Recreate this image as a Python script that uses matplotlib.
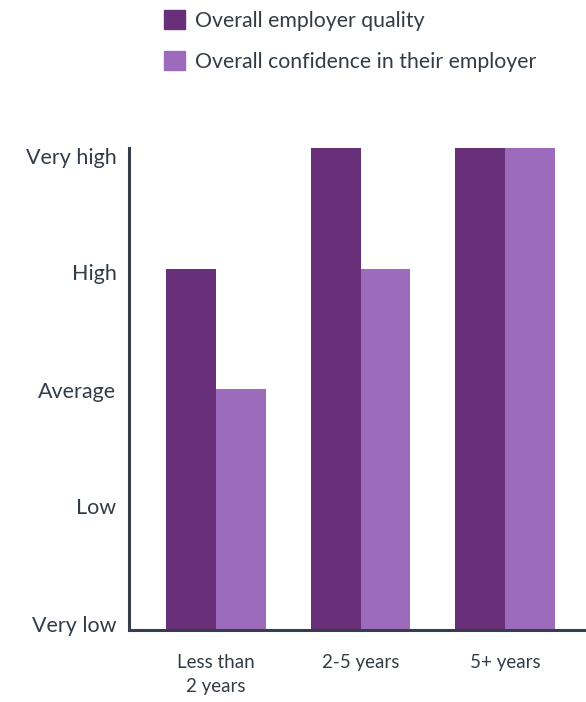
import matplotlib
matplotlib.use("Agg")
import matplotlib.pyplot as plt
import matplotlib.transforms as mtransforms
import numpy as np
from matplotlib.patches import Patch

categories = ["Less than\n2 years", "2-5 years", "5+ years"]
levels = ["Very low", "Low", "Average", "High", "Very high"]
series_names = ["Overall employer quality", "Overall confidence in their employer"]
employer_quality = [3, 4, 4]
employer_confidence = [2, 3, 4]

dark = "#69307a"
light = "#9d6bbc"
text_color = "#333c46"
spine_color = "#363f49"

plt.rcParams["font.family"] = ["Lato", "DejaVu Sans"]

fig = plt.figure(figsize=(5.86, 7.02), dpi=100)
ax = fig.add_axes([129 / 586, 72 / 702, 1 - 129 / 586, (630 - 148) / 702])

x = np.arange(len(categories))
w = 0.345
ax.bar(x - w / 2, employer_quality, width=w, color=dark, label=series_names[0], zorder=2)
ax.bar(x + w / 2, employer_confidence, width=w, color=light, label=series_names[1], zorder=2)

ax.set_xlim(-0.602, 2.56)
ax.set_ylim(0, 4)
ax.set_yticks(range(len(levels)))
ax.set_yticklabels(levels, fontsize=15.5, color=text_color)
ax.set_xticks(x)
ax.set_xticklabels(categories, fontsize=13.5, color=text_color, linespacing=1.5)
ax.tick_params(axis="both", length=0)
ax.tick_params(axis="y", pad=9)
ax.tick_params(axis="x", pad=17)

# nudge the level labels slightly below their grid positions
shifts = [-0.04, -0.02, 0.03, 0.06, 0.10]
for lab, s in zip(ax.get_yticklabels(), shifts):
    lab.set_va("center")
    lab.set_transform(lab.get_transform() + mtransforms.ScaledTranslation(0, -s, fig.dpi_scale_trans))

for side in ["top", "right"]:
    ax.spines[side].set_visible(False)
for side in ["left", "bottom"]:
    ax.spines[side].set_color(spine_color)
    ax.spines[side].set_linewidth(2.2)

handles = [Patch(color=dark), Patch(color=light)]
fig.legend(handles, series_names, loc="upper left", bbox_to_anchor=(145 / 586, 1 + 9 / 702),
           frameon=False, fontsize=15.3, handlelength=1.0, handleheight=1.0,
           handletextpad=0.45, labelspacing=0.95, labelcolor=text_color)

fig.savefig("out.png", dpi=100)
